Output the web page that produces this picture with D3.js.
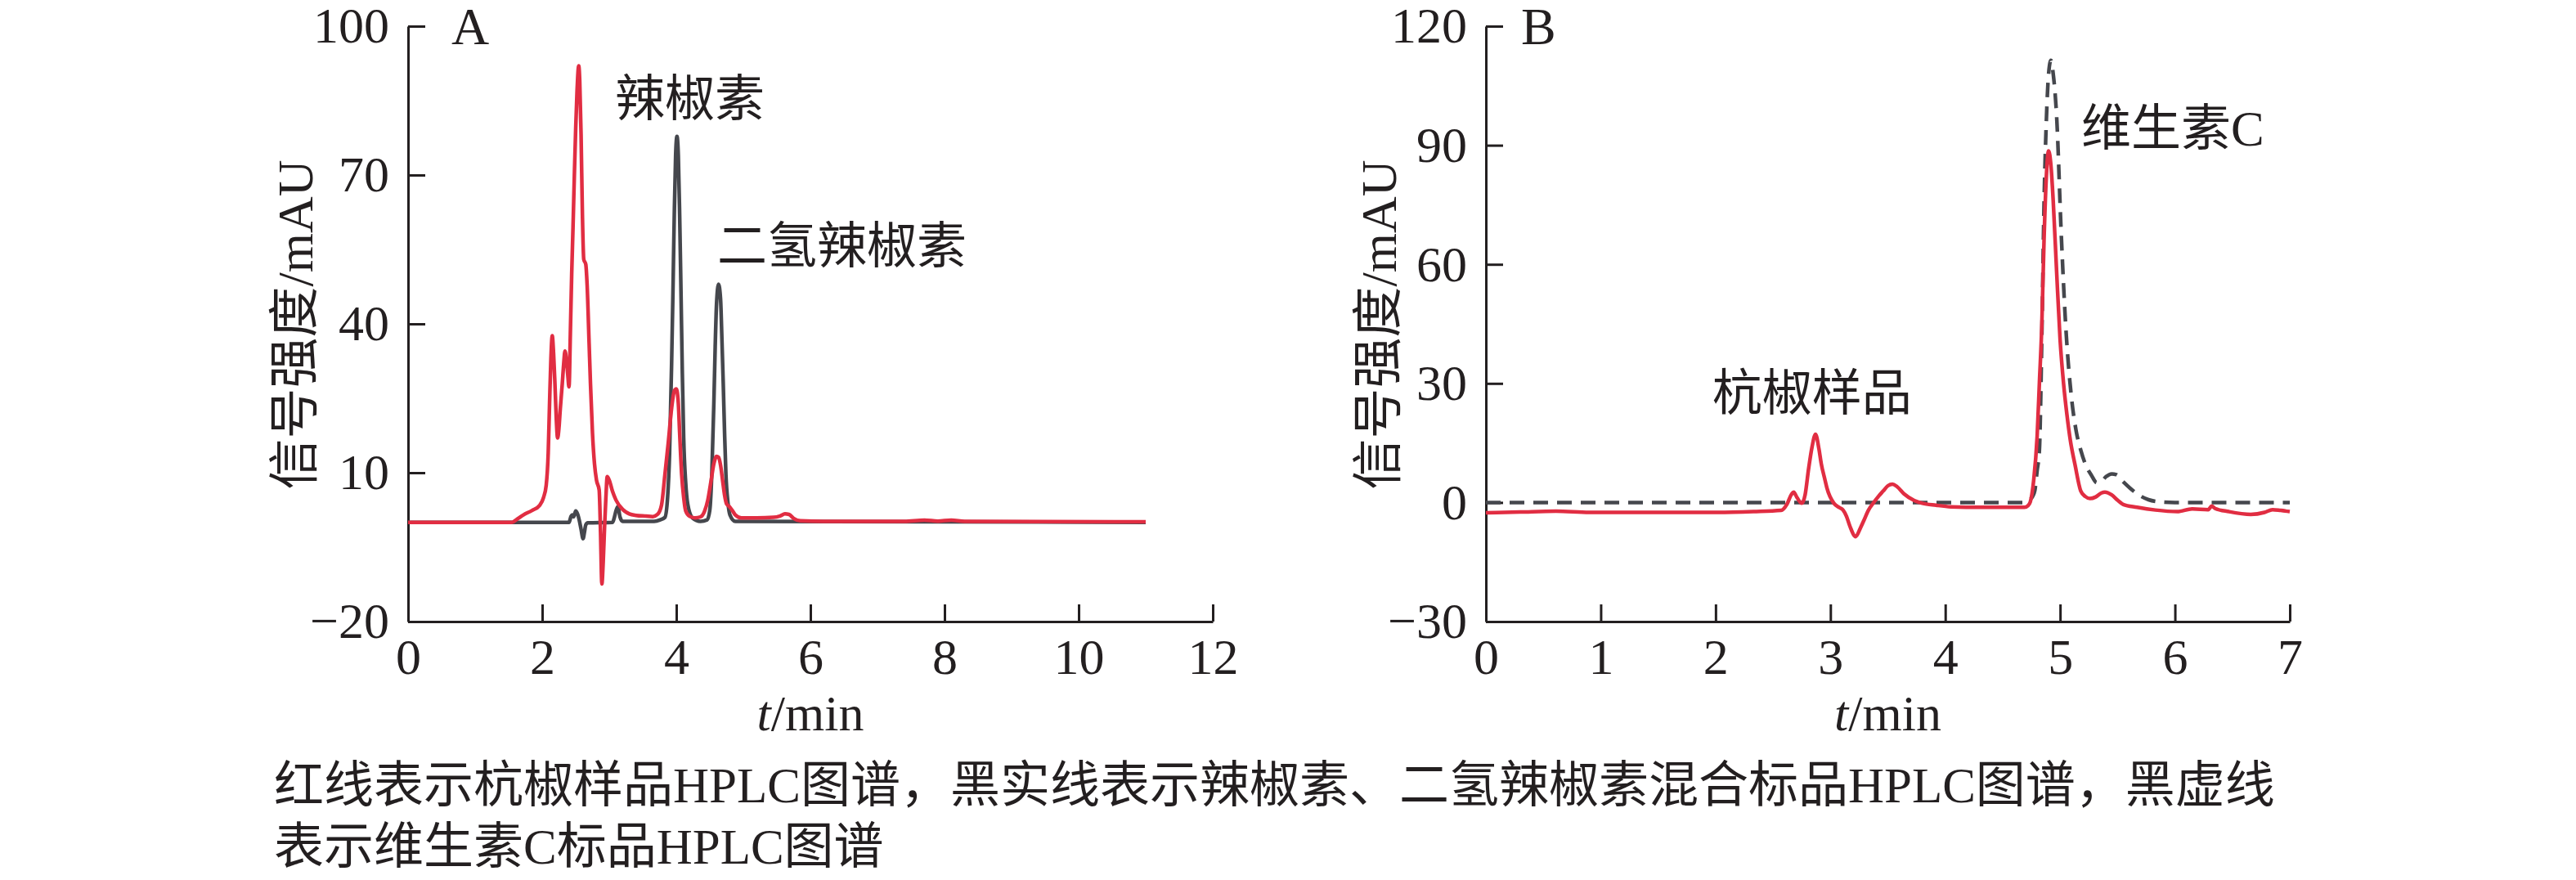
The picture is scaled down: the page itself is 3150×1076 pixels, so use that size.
<!DOCTYPE html>
<html><head><meta charset="utf-8">
<script src="https://cdn.jsdelivr.net/npm/d3@7"></script>
<style>
html,body{margin:0;padding:0;background:#fff;}
svg{display:block;}
</style></head>
<body>
<svg id="chart" width="3150" height="1076"></svg>
<script>
// ---------- Data ----------
// Panel A: red = sample, black = capsaicin/dihydrocapsaicin standards
const redA_t = [0,1.55,1.62,1.72,1.85,1.96,2.02,2.06,2.09,2.11,2.13,2.15,2.17,2.19,2.21,2.23,2.25,2.27,2.30,2.32,2.34,2.36,2.38,2.40,2.42,2.44,2.46,2.48,2.50,2.52,2.545,2.56,2.58,2.60,2.62,2.65,2.67,2.70,2.72,2.75,2.78,2.81,2.85,2.87,2.89,2.91,2.93,2.95,2.97,3.00,3.05,3.10,3.20,3.30,3.40,3.55,3.65,3.72,3.78,3.83,3.88,3.93,3.97,4.00,4.03,4.05,4.08,4.11,4.14,4.20,4.28,4.36,4.42,4.47,4.52,4.56,4.60,4.63,4.66,4.69,4.72,4.75,4.79,4.83,4.88,4.97,5.20,5.45,5.55,5.62,5.68,5.75,5.85,6.20,7.40,7.70,7.90,8.10,8.30,11.0];
const redA_v = [0,0,0.6,1.5,2.4,3.4,5.0,7.5,14,24,33,37.6,34,28,21,17,19,22.9,28,31.8,34.5,33,30,27.3,38,50,59.6,70,79.5,87,92,89,78,62,53,52,47.9,36,28,18,11.8,8.5,6.5,-2,-12.4,-8,-1,5,9.2,8.5,6.2,4.5,2.6,1.7,1.4,1.25,1.15,1.6,3.5,9.6,16,23,26.5,26.9,24,18,9.6,5,2.3,1.2,0.9,1.1,2.2,4.5,8.5,11.8,13.3,13.1,11.5,8.5,5.5,3.7,3.2,2.5,1.5,0.9,0.9,1.0,1.3,1.7,1.6,0.8,0.3,0.2,0.2,0.45,0.25,0.45,0.2,0.1];
const blackA_t = [0,2.40,2.43,2.45,2.47,2.50,2.53,2.56,2.58,2.61,2.63,2.65,2.68,3.05,3.08,3.10,3.13,3.16,3.20,3.67,3.76,3.83,3.87,3.90,3.93,3.95,3.97,3.99,4.01,4.03,4.05,4.07,4.09,4.11,4.14,4.17,4.24,4.36,4.46,4.50,4.53,4.56,4.58,4.60,4.63,4.66,4.68,4.70,4.72,4.74,4.77,4.80,4.88,11.0];
const blackA_v = [0,0,1.2,1.5,1.1,2.3,1.6,0,-1.4,-3.3,-2.0,-0.5,-0.1,0,1.2,2.3,3.2,1.1,0.2,0.2,0.5,1.0,5,14,32,46.4,62,74,77.8,74,62,46.4,30,17,8,3.7,0.9,0.2,0.5,2.5,10,24,35.4,44,48,45,37,28,18,9.6,4,1.5,0.2,0];
// Panel B: red = sample, dashed black = vitamin C standard
const redB_t = [0,0.3,0.61,0.9,1.3,1.86,2.02,2.33,2.57,2.62,2.66,2.68,2.71,2.75,2.78,2.81,2.84,2.87,2.90,2.92,2.95,2.97,3.03,3.08,3.11,3.14,3.17,3.22,3.26,3.29,3.33,3.38,3.42,3.46,3.50,3.54,3.58,3.64,3.73,3.80,3.92,4.05,4.18,4.43,4.69,4.72,4.74,4.77,4.80,4.82,4.84,4.86,4.88,4.90,4.92,4.94,4.97,5.00,5.03,5.06,5.09,5.13,5.18,5.22,5.26,5.31,5.36,5.39,5.45,5.50,5.55,5.67,5.83,6.02,6.15,6.29,6.32,6.35,6.47,6.66,6.78,6.85,6.92,7.0];
const redB_v = [-2.6,-2.4,-2.2,-2.5,-2.5,-2.5,-2.5,-2.3,-2.0,-0.5,2.0,2.6,1.2,-0.2,2,8.5,14,17.2,13.5,9.8,6,3.6,-0.2,-1.3,-1.9,-3.5,-6,-8.6,-6.5,-4.6,-2,0.1,1.6,2.9,4.2,4.6,4,2.2,0.5,-0.2,-0.7,-1.1,-1.2,-1.2,-1.2,-0.8,0.1,5.6,16.6,30.3,44,66,82,88.6,85,76,58,41,30,22,15.5,9.5,2.9,1.5,1.0,1.4,2.4,2.6,1.9,0.6,-0.5,-1.2,-1.9,-2.3,-1.6,-1.8,-0.9,-1.5,-2.3,-3.0,-2.5,-1.8,-2.0,-2.3];
const dashB_t = [0,4.68,4.72,4.76,4.78,4.80,4.82,4.84,4.86,4.88,4.90,4.92,4.94,4.97,5.01,5.05,5.10,5.14,5.18,5.23,5.27,5.32,5.36,5.40,5.45,5.49,5.55,5.61,5.68,5.77,5.90,6.0,7.0];
const dashB_v = [0,0,0.4,1.5,3,8,13.3,40,75,96,108,111.4,108,97.2,67.6,44,26.2,18,13.2,9,7.0,5.0,5.3,6.5,7.2,7.0,5.2,3.6,2.0,0.7,0.1,0,0];

// Axes ticks and labels
const xTicksA = [0,2,4,6,8,10,12];
const yTicksA = [-20,10,40,70,100];
const xTicksB = [0,1,2,3,4,5,6,7];
const yTicksB = [-30,0,30,60,90,120];
const yTitle = "信号强度/mAU";
const panelLabels = ["A","B"];
const annotA = [{text:"辣椒素", t:3.085, v:85.2}, {text:"二氢辣椒素", t:4.61, v:55.5}];
const annotB = [{text:"杭椒样品", t:1.97, v:27.3}, {text:"维生素C", t:5.185, v:94.2}];
const caption = ["红线表示杭椒样品HPLC图谱，黑实线表示辣椒素、二氢辣椒素混合标品HPLC图谱，黑虚线", "表示维生素C标品HPLC图谱"];

// ---------- Drawing ----------
const svg = d3.select("#chart");
const INK = "#231f20", RED = "#e12d42", GREY = "#45474d";
const SERIF = "'Liberation Serif','Times New Roman',serif";
const CJK = "'Liberation Serif','Noto Sans CJK SC',serif";

function panel(cfg){
  const x = d3.scaleLinear().domain(cfg.xd).range(cfg.xr);
  const y = d3.scaleLinear().domain(cfg.yd).range([760,32]);
  const g = svg.append("g");
  const xa = g.append("g").attr("transform",`translate(0,760)`)
    .call(d3.axisBottom(x).tickValues(cfg.xt).tickSizeInner(-21).tickSizeOuter(0).tickPadding(20).tickFormat(d3.format("d")));
  const ya = g.append("g").attr("transform",`translate(${cfg.xr[0]},0)`)
    .call(d3.axisLeft(y).tickValues(cfg.yt).tickSizeInner(-21).tickSizeOuter(0).tickPadding(23).tickFormat(d=> d<0? "\u2212"+Math.abs(d) : d));
  [xa,ya].forEach(a=>{
    a.select(".domain").attr("stroke",INK).attr("stroke-width",3);
    a.selectAll(".tick line").attr("stroke",INK).attr("stroke-width",3);
    a.selectAll(".tick text").attr("fill",INK).style("font-family",SERIF).style("font-size","62px");
  });
  xa.selectAll(".tick").filter(d=>d===cfg.xt[0]).select("line").remove();
  const line = d3.line().x(d=>x(d[0])).y(d=>y(d[1])).curve(d3.curveMonotoneX);
  cfg.series.forEach(s=>{
    g.append("path").datum(d3.zip(s.t,s.v)).attr("d",line)
      .attr("fill","none").attr("stroke",s.color).attr("stroke-width",4.5)
      .attr("stroke-linejoin","round")
      .attr("stroke-dasharray",s.dash||null);
  });
  // panel letter
  g.append("text").attr("x",cfg.xr[0]+cfg.labDx).attr("y",54).text(cfg.label)
    .attr("fill",INK).style("font-family",SERIF).style("font-size","64px");
  // annotations
  cfg.annot.forEach(a=>{
    g.append("text").attr("x",x(a.t)).attr("y",y(a.v)).attr("dominant-baseline","central")
      .text(a.text).attr("fill",INK).style("font-family",CJK).style("font-size","61px");
  });
  // y title
  g.append("text").attr("transform",`translate(${cfg.ytx},397) rotate(-90)`)
    .attr("text-anchor","middle").attr("dominant-baseline","central")
    .text(yTitle).attr("fill",INK).style("font-family",CJK).style("font-size","62px");
  // x title
  const xt = g.append("text").attr("x",(cfg.xr[0]+cfg.xr[1])/2).attr("y",893).attr("text-anchor","middle")
    .attr("fill",INK).style("font-family",SERIF).style("font-size","62px");
  xt.append("tspan").style("font-style","italic").text("t");
  xt.append("tspan").text("/min");
}

panel({xd:[0,12], xr:[499,1483], yd:[-20,100], xt:xTicksA, yt:yTicksA, label:panelLabels[0], labDx:53, ytx:361,
  annot:annotA,
  series:[{t:blackA_t,v:blackA_v,color:GREY},{t:redA_t,v:redA_v,color:RED}]});
panel({xd:[0,7], xr:[1817,2800], yd:[-30,120], xt:xTicksB, yt:yTicksB, label:panelLabels[1], labDx:43, ytx:1686,
  annot:annotB,
  series:[{t:dashB_t,v:dashB_v,color:GREY,dash:"18,11"},{t:redB_t,v:redB_v,color:RED}]});

caption.forEach((c,i)=>{
  svg.append("text").attr("x",335).attr("y",960+i*75).attr("dominant-baseline","central")
    .text(c).attr("fill",INK).style("font-family",CJK).style("font-size","61px");
});
</script>
</body></html>
